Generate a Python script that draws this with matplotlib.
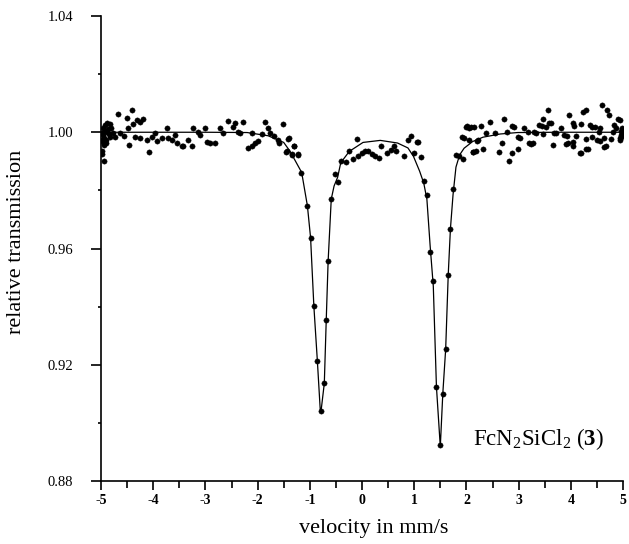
import numpy as np
import matplotlib
matplotlib.use("Agg")
import matplotlib.pyplot as plt

plt.rcParams["font.family"] = ["Liberation Serif", "DejaVu Serif"]
plt.rcParams["mathtext.fontset"] = "custom"
plt.rcParams["mathtext.rm"] = "Liberation Serif"
plt.rcParams["mathtext.it"] = "Liberation Serif:italic"
plt.rcParams["mathtext.bf"] = "Liberation Serif:bold"

v_left = [-4.99, -4.987, -4.943, -4.99, -4.987, -4.956, -4.923, -4.879, -4.828, -4.891,
          -4.828, -4.904, -4.765, -4.732, -4.669, -4.636, -4.560, -4.508, -4.458, -4.477,
          -4.401, -4.382, -4.316, -4.253, -4.190, -4.349, -4.253, -4.125, -4.081, -4.029,
          -3.966, -3.922, -3.838, -3.742, -3.711, -3.646, -3.583, -3.551, -3.455, -3.424,
          -3.329, -3.263, -3.233, -3.137, -3.105, -3.009, -2.965, -2.913, -2.817, -2.722,
          -2.658, -2.563, -2.467, -2.434, -2.371, -2.339, -2.287, -2.180, -2.115, -2.052,
          -1.988, -2.115, -1.923, -1.860, -1.797, -1.764, -1.688, -1.605, -1.510, -1.445,
          -1.395, -1.349, -1.305, -1.222,
          -4.97, -4.95, -4.93, -4.91, -4.86, -4.85, -4.80, -4.95, -4.97]
t_left = [0.9935, 0.9924, 0.9902, 0.9974, 0.9997, 1.0013, 1.0024, 1.0032, 1.0028, 1.0002,
          0.9985, 0.9963, 0.9999, 0.9985, 1.0064, 0.9997, 0.9988, 1.0050, 0.9957, 1.0013,
          1.0077, 1.0030, 1.0041, 1.0036, 1.0044, 0.9985, 0.9980, 0.9974, 0.9932, 0.9985,
          0.9997, 0.9969, 0.9980, 1.0013, 0.9980, 0.9974, 0.9991, 0.9963, 0.9952, 0.9952,
          0.9972, 0.9952, 1.0013, 1.0002, 0.9991, 1.0013, 0.9965, 0.9963, 0.9963, 1.0013,
          0.9999, 1.0039, 1.0019, 1.0032, 1.0002, 0.9997, 1.0036, 0.9946, 0.9954, 0.9963,
          0.9969, 0.9999, 0.9994, 1.0036, 1.0013, 0.9999, 0.9988, 0.9974, 1.0028, 0.9935,
          0.9980, 0.9924, 0.9954, 0.9924,
          0.9990, 0.9980, 1.0005, 0.9975, 1.0010, 0.9995, 1.0015, 0.9955, 0.9968]

v_dip1 = [-1.594, -1.458, -1.420, -1.348, -1.304, -1.226, -1.174, -1.046, -0.985, -0.922,
          -0.855, -0.789, -0.722, -0.685, -0.649, -0.589, -0.516, -0.467]
t_dip1 = [0.9964, 0.9933, 0.9977, 0.9923, 0.9954, 0.9923, 0.9861, 0.9747, 0.9637, 0.9401,
          0.9213, 0.9041, 0.9136, 0.9354, 0.9556, 0.9770, 0.9858, 0.9829]

v_mid = [-0.407, -0.316, -0.244, -0.164, -0.104, -0.073, 0.006, 0.052, 0.119, 0.185,
         0.250, 0.318, 0.370, 0.483, 0.549, 0.616, 0.648, 0.801, 0.881, 0.946,
         1.000, 1.055, 1.073]
t_mid = [0.9900, 0.9897, 0.9934, 0.9909, 0.9976, 0.9917, 0.9929, 0.9934, 0.9934, 0.9926,
         0.9917, 0.9912, 0.9951, 0.9929, 0.9940, 0.9951, 0.9934, 0.9920, 0.9974, 0.9987,
         0.9929, 0.9965, 0.9965]

v_dip2 = [1.133, 1.196, 1.243, 1.305, 1.366, 1.426, 1.499, 1.548, 1.603, 1.652,
          1.694, 1.744, 1.804, 1.865, 1.927]
t_dip2 = [0.9914, 0.9833, 0.9784, 0.9587, 0.9487, 0.9124, 0.8925, 0.9101, 0.9254, 0.9510,
          0.9668, 0.9804, 0.9923, 0.9918, 0.9907]

v_right = [1.909, 1.987, 2.020, 2.052, 2.085, 2.151, 2.284, 2.449, 2.716, 2.881,
           2.915, 3.109, 3.555, 3.459, 4.300, 4.600, 4.700, 4.734, 4.934, 2.219,
           2.318, 2.119, 2.616, 2.815, 2.881, 2.682, 3.033, 3.235, 3.650, 3.904,
           4.034, 4.188, 4.334, 4.634, 2.384, 2.549, 2.781, 2.980, 3.172, 3.300,
           3.396, 3.522, 3.683, 3.809, 3.924, 4.100, 4.200, 4.400, 4.534, 4.800,
           4.868, 4.934, 4.768, 4.568, 4.400, 4.900, 3.969, 4.068, 4.234, 3.587,
           3.618, 4.034, 4.368, 4.468, 4.568, 4.834, 4.968, 3.459, 3.713, 3.874,
           4.034, 3.937, 4.300, 4.500, 4.634, 4.668, 4.950, 3.268, 4.168, 4.300,
           4.968, 4.990, 4.980, 4.960, 1.958, 2.052, 2.185, 2.132, 2.200, 2.980,
           3.205, 3.331, 3.440]
t_right = [0.9983, 1.0019, 1.0021, 1.0013, 1.0019, 1.0019, 1.0021, 1.0036, 1.0047, 1.0021,
           1.0019, 1.0013, 1.0077, 1.0044, 1.0075, 1.0095, 1.0077, 1.0058, 1.0041, 0.9974,
           0.9941, 0.9932, 0.9932, 0.9902, 0.9927, 0.9963, 0.9980, 0.9961, 0.9957, 0.9961,
           0.9952, 0.9927, 0.9943, 0.9950, 0.9997, 0.9997, 1.0002, 0.9985, 1.0002, 1.0002,
           1.0024, 1.0019, 0.9997, 1.0013, 0.9988, 0.9988, 1.0030, 1.0017, 1.0002, 1.0002,
           1.0013, 0.9980, 0.9977, 0.9969, 0.9985, 1.0047, 1.0058, 1.0021, 1.0068, 1.0032,
           1.0032, 1.0032, 1.0024, 1.0019, 1.0013, 1.0024, 0.9991, 0.9993, 0.9999, 0.9991,
           0.9965, 0.9963, 0.9977, 0.9974, 0.9980, 0.9952, 0.9975, 0.9963, 0.9930, 0.9941,
           1.0005, 0.9995, 1.0015, 0.9985, 0.9980, 0.9974, 0.9935, 0.9933, 0.9969, 0.9943,
           0.9963, 0.9999, 1.0021]

# fitted curve
v_fit = [-5.0, -3.0, -2.2, -1.8, -1.5, -1.38, -1.19, -1.155, -1.046, -0.985,
         -0.922, -0.855, -0.80, -0.785, -0.722, -0.685, -0.649, -0.589, -0.535, -0.467,
         -0.407, -0.244, 0.02, 0.35, 0.68, 0.88, 0.986, 1.104, 1.183, 1.243,
         1.305, 1.366, 1.426, 1.50, 1.548, 1.603, 1.652, 1.694, 1.744, 1.80,
         1.87, 1.956, 2.119, 2.318, 2.648, 2.98, 3.75, 5.0]
t_fit = [1.0000, 1.0000, 0.9999, 0.9988, 0.9965, 0.9935, 0.9873, 0.9861, 0.9747, 0.9637,
         0.9401, 0.9213, 0.9045, 0.9040, 0.9136, 0.9354, 0.9556, 0.9770, 0.9815, 0.9845,
         0.9895, 0.9934, 0.9965, 0.9972, 0.9963, 0.9946, 0.9917, 0.9866, 0.9825, 0.9770,
         0.9610, 0.9470, 0.9124, 0.8918, 0.9101, 0.9254, 0.9510, 0.9668, 0.9785, 0.9880,
         0.9922, 0.9945, 0.9968, 0.9983, 0.9994, 0.9999, 1.0000, 1.0000]

x_major = [-5, -4, -3, -2, -1, 0, 1, 2, 3, 4, 5]
x_minor = [-4.5, -3.5, -2.5, -1.5, -0.5, 0.5, 1.5, 2.5, 3.5, 4.5]
y_major = [0.88, 0.92, 0.96, 1.00, 1.04]
y_minor = [0.90, 0.94, 0.98, 1.02]

vel = np.concatenate([v_left, v_dip1, v_mid, v_dip2, v_right])
trans = np.concatenate([t_left, t_dip1, t_mid, t_dip2, t_right])

fig = plt.figure(figsize=(6.29, 5.44), dpi=100)
ax = fig.add_axes([101 / 629, 1 - 481 / 544, 522 / 629, 465 / 544])

ax.plot(v_fit, t_fit, color="black", lw=0.9)
ax.plot(vel, trans, "o", color="black", ms=3.8, mec="black", mew=0.3)

ax.set_xlim(-5, 5)
ax.set_ylim(0.88, 1.04)
for side in ("top", "right"):
    ax.spines[side].set_visible(False)
for side in ("left", "bottom"):
    ax.spines[side].set_linewidth(1.2)

ax.set_xticks(x_major)
ax.set_xticks(x_minor, minor=True)
ax.set_xticklabels([str(v) for v in x_major], fontweight="bold", fontsize=10)
ax.set_yticks(y_major)
ax.set_yticks(y_minor, minor=True)
ax.set_yticklabels(["%.2f" % v for v in y_major], fontsize=10.5)

ax.tick_params(axis="x", which="major", direction="out", length=6.5, width=1.2, pad=3)
ax.tick_params(axis="x", which="minor", direction="out", length=5, width=1.2)
ax.tick_params(axis="y", which="major", direction="out", length=7, width=1.2, pad=13)
ax.tick_params(axis="y", which="minor", direction="out", length=2.5, width=1.2)

ax.text(2.12, 0.8925, r"FcN$_2$SiCl$_2$ ($\mathbf{3}$)", fontsize=16.5,
        ha="left", va="baseline")

fig.text(17 / 629, 1 - 242 / 544, "relative transmission", rotation=90,
         fontsize=16, ha="center", va="center")
fig.text(374 / 629, 1 - 528 / 544, "velocity in mm/s", fontsize=16,
         ha="center", va="center")

fig.savefig("out.png", dpi=100)
